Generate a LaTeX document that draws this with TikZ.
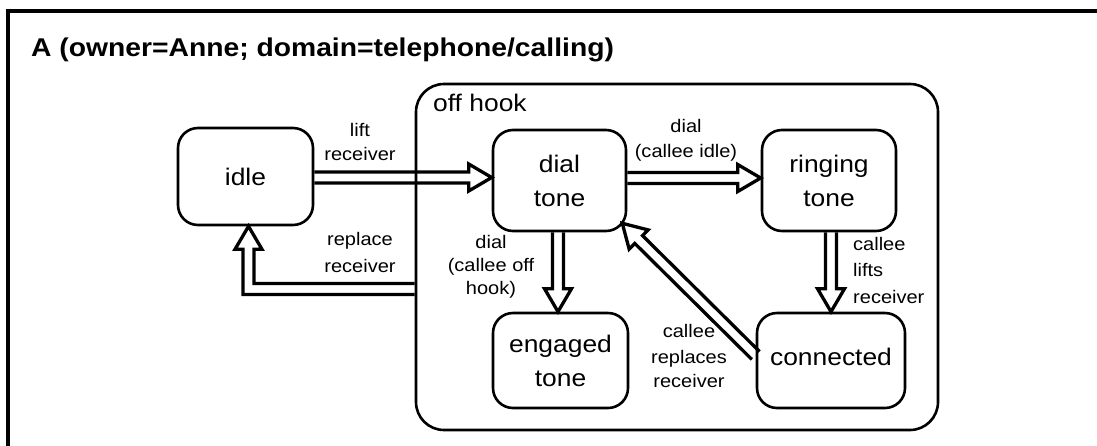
\documentclass[tikz,border=0pt]{standalone}
\usepackage{fontspec}
\setmainfont{Liberation Sans}[FakeStretch=1.1]
\usetikzlibrary{calc}
\pgfdeclarelayer{background}
\pgfsetlayers{background,main}
\def\hw{5.5}
\def\hh{13.5}
\def\hl{23}
\begin{document}
\begin{tikzpicture}[x=1pt,y=-1pt]
\tikzset{
  statebox/.style={draw, line width=2.6pt, rounded corners=20pt, align=center,
    font=\fontsize{24}{34}\selectfont, inner sep=0pt},
  lbl/.style={align=center, font=\fontsize{18.2}{25}\selectfont, inner sep=0pt, anchor=base},
  hollowline/.style={draw=black, fill=white, line width=3.3pt, line join=miter},
  hollow/.style={hollowline, to path={
    let \p1=(\tikztostart), \p2=(\tikztotarget),
        \n1={atan2(\y2-\y1,\x2-\x1)}
    in ($(\p1)+({\n1+90}:\hw pt)$)
    -- ($(\p2)!\hl pt!(\p1)+({\n1+90}:\hw pt)$)
    -- ($(\p2)!\hl pt!(\p1)+({\n1+90}:\hh pt)$)
    -- (\p2)
    -- ($(\p2)!\hl pt!(\p1)+({\n1-90}:\hh pt)$)
    -- ($(\p2)!\hl pt!(\p1)+({\n1-90}:\hw pt)$)
    -- ($(\p1)+({\n1-90}:\hw pt)$)}}
}
\useasboundingbox (0,0) rectangle (1097,445);
\clip (0,0) rectangle (1097,445);
\begin{pgfonlayer}{background}
\fill[white] (0,0) rectangle (1097,445);
\end{pgfonlayer}
\draw[line width=3.3pt] (8,11) rectangle (1130,480);
\node[font=\bfseries\fontsize{25.7}{30}\selectfont, anchor=base west, inner sep=0pt] (title) at (31,56) {A (owner=Anne; domain=telephone/calling)};

% off hook super state
\node[draw, line width=2.6pt, rounded corners=28pt, minimum width=522pt, minimum height=346pt, inner sep=0pt] (offhook) at (677,257) {};
\node[font=\fontsize{24}{28}\selectfont, anchor=base west, inner sep=0pt] (offhooklabel) at (433,111) {off hook};

% states
\node[statebox, minimum width=135pt, minimum height=97pt] (idle) at (245.5,176.5) {idle};
\node[statebox, minimum width=133pt, minimum height=101pt] (dial) at (559.5,180.5) {dial\\tone};
\node[statebox, minimum width=134pt, minimum height=101pt] (ringing) at (829,180.5) {ringing\\tone};
\node[statebox, minimum width=135pt, minimum height=95pt] (engaged) at (560.5,360.5) {engaged\\tone};
\node[statebox, minimum width=148pt, minimum height=95pt, text depth=8pt] (connected) at (831,360.5) {connected};

% connector end points
\coordinate (a1s) at ($(idle.east)+(0,1)$);
\coordinate (a1e) at (dial.west |- a1s);
\coordinate (a2s) at ($(dial.east)+(0,-2.5)$);
\coordinate (a2e) at (ringing.west |- a2s);
\coordinate (a3s) at ($(dial.south)+(-1.5,0)$);
\coordinate (a3e) at (engaged.north -| a3s);
\coordinate (a4s) at ($(ringing.south)+(2,0)$);
\coordinate (a4e) at (connected.north -| a4s);
\coordinate (a5s) at ($(connected.west)+(0,-5)$);
\coordinate (a5e) at ($(dial.south east)+(-5,-9)$);
\coordinate (a6s) at ($(offhook.west)+(0,32)$);
\coordinate (a6e) at ($(idle.south)+(3,0)$);
\coordinate (a6c) at (a6e |- a6s);

\begin{pgfonlayer}{background}
\draw[hollow] (a1s) to (a1e);
\draw[hollow] (a2s) to (a2e);
\draw[hollow] (a3s) to (a3e);
\draw[hollow] (a4s) to (a4e);
\draw[hollow] (a5s) to (a5e);
\filldraw[hollowline] ($(a6s)+(0,-\hw)$) -- ($(a6c)+(\hw,-\hw)$) -- ($(a6e)+(\hw,\hl)$)
  -- ($(a6e)+(\hh,\hl)$) -- (a6e) -- ($(a6e)+(-\hh,\hl)$) -- ($(a6e)+(-\hw,\hl)$)
  -- ($(a6c)+(-\hw,\hw)$) -- ($(a6s)+(0,\hw)$);
\end{pgfonlayer}

% labels (base anchor = baseline of the last line)
\node[lbl] (lliftrec) at (360,160) {lift\\[-1pt]receiver};
\node[lbl] (lreplrec) at (360,272) {replace\\[2pt]receiver};
\node[lbl] (ldialidle) at (686,157) {dial\\(callee idle)};
\node[lbl] (ldialoff) at (491,294) {dial\\[-2pt](callee off\hspace*{30pt}\\[-2pt]hook)};
\node[lbl] (lcalleerepl) at (689,387) {callee\\[1pt]replaces\\[-1pt]receiver};
\node[lbl, align=left, anchor=base west] (lcalleelift) at (853,303) {callee\\[1.5pt]lifts\\[1.5pt]receiver};
\end{tikzpicture}
\end{document}
